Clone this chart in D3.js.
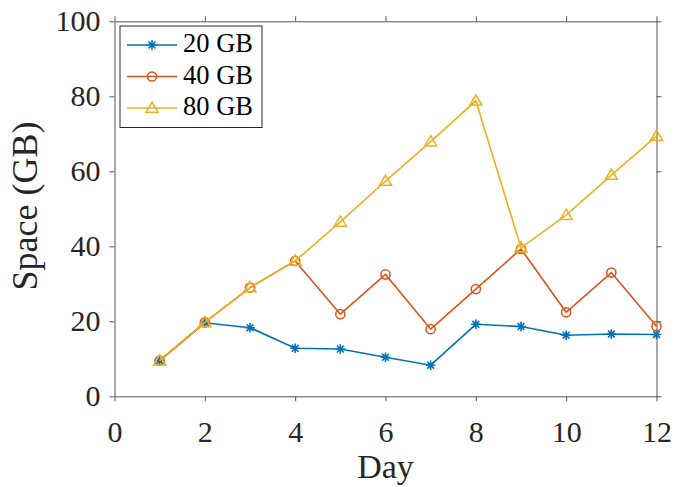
<!DOCTYPE html>
<html>
<head>
<meta charset="utf-8">
<script src="https://cdn.jsdelivr.net/npm/d3@7"></script>
<style>
  body { margin: 0; background: #fff; }
  svg text { font-family: "Liberation Serif", "Times New Roman", serif; }
</style>
</head>
<body>
<svg width="675" height="487"></svg>
<script>
'use strict'

const days = [1, 2, 3, 4, 5, 6, 7, 8, 9, 10, 11, 12];
const gb20 = [9.5, 19.6, 18.3, 12.8, 12.6, 10.4, 8.3, 19.2, 18.6, 16.3, 16.6, 16.5];
const gb40 = [9.5, 19.7, 29.0, 36.1, 21.9, 32.5, 17.9, 28.6, 39.3, 22.4, 33.0, 18.7];
const gb80 = [9.5, 19.7, 29.0, 36.1, 46.5, 57.4, 67.9, 78.8, 39.6, 48.3, 59.0, 69.4];
const seriesNames = ['20 GB', '40 GB', '80 GB'];
const xTicks = [0, 2, 4, 6, 8, 10, 12];
const yTicks = [0, 20, 40, 60, 80, 100];

const colors = ['#0072BD', '#D95319', '#EDB120'];
const markers = ['star', 'circle', 'triangle'];

const plotLeft = 114.5, plotRight = 656.5, plotTop = 21.3, plotBottom = 396.3;
const axisColor = '#555';

const svg = d3.select('svg');
const x = d3.scaleLinear().domain([0, 12]).range([plotLeft, plotRight]);
const y = d3.scaleLinear().domain([0, 100]).range([plotBottom, plotTop]);

// Axes (box with ticks on all sides, pointing outward)
const axes = [
  [d3.axisBottom(x).tickValues(xTicks), `translate(0,${plotBottom})`, 19],
  [d3.axisTop(x).tickValues(xTicks), `translate(0,${plotTop})`, 0],
  [d3.axisLeft(y).tickValues(yTicks), `translate(${plotLeft},0)`, 9],
  [d3.axisRight(y).tickValues(yTicks), `translate(${plotRight},0)`, 0]
];
axes.forEach(([ax, tr, pad]) => {
  const g = svg.append('g')
    .attr('transform', tr)
    .call(ax.tickSizeInner(5).tickSizeOuter(0).tickPadding(pad));
  g.attr('font-family', null).attr('font-size', null);
  g.select('.domain').attr('stroke', axisColor).attr('stroke-width', 1);
  g.selectAll('.tick line').attr('stroke', axisColor);
  if (pad) {
    g.selectAll('.tick text')
      .attr('fill', '#262626')
      .attr('font-size', 30);
  } else {
    g.selectAll('.tick text').remove();
  }
});

// Axis labels
svg.append('text')
  .attr('x', (plotLeft + plotRight) / 2)
  .attr('y', 478)
  .attr('text-anchor', 'middle')
  .attr('font-size', 34)
  .attr('fill', '#262626')
  .text('Day');

svg.append('text')
  .attr('transform', `translate(37,206) rotate(-90)`)
  .attr('text-anchor', 'middle')
  .attr('font-size', 36)
  .attr('fill', '#262626')
  .text('Space (GB)');

function drawMarker(g, type, color, cx, cy) {
  if (type === 'circle') {
    g.append('circle')
      .attr('cx', cx).attr('cy', cy).attr('r', 4.6)
      .attr('fill', 'none').attr('stroke', color).attr('stroke-width', 1.5);
  } else if (type === 'triangle') {
    const s = 6;
    g.append('path')
      .attr('d', `M${cx},${cy - s} L${cx + s},${cy + s * 0.7} L${cx - s},${cy + s * 0.7} Z`)
      .attr('fill', 'none').attr('stroke', color).attr('stroke-width', 1.5);
  } else {
    const s = 4.8;
    const p = d3.path();
    for (let a = 0; a < 4; a++) {
      const t = a * Math.PI / 4;
      p.moveTo(cx - s * Math.cos(t), cy - s * Math.sin(t));
      p.lineTo(cx + s * Math.cos(t), cy + s * Math.sin(t));
    }
    g.append('path').attr('d', p.toString())
      .attr('stroke', color).attr('stroke-width', 1.6);
  }
}

const line = d3.line().x(d => x(d[0])).y(d => y(d[1]));
[gb20, gb40, gb80].forEach((vals, i) => {
  const pts = days.map((d, j) => [d, vals[j]]);
  const g = svg.append('g');
  g.append('path')
    .attr('d', line(pts))
    .attr('fill', 'none')
    .attr('stroke', colors[i])
    .attr('stroke-width', 1.6);
  pts.forEach(p => drawMarker(g, markers[i], colors[i], x(p[0]), y(p[1])));
});

// Legend
const lg = svg.append('g');
lg.append('rect')
  .attr('x', 120).attr('y', 26).attr('width', 142).attr('height', 101.5)
  .attr('fill', '#fff').attr('stroke', '#262626').attr('stroke-width', 1);
seriesNames.forEach((name, i) => {
  const ly = 45 + i * 31.5;
  lg.append('line')
    .attr('x1', 127).attr('x2', 177).attr('y1', ly).attr('y2', ly)
    .attr('stroke', colors[i]).attr('stroke-width', 1.6);
  drawMarker(lg, markers[i], colors[i], 152, ly);
  lg.append('text')
    .attr('x', 183).attr('y', ly + 7)
    .attr('font-size', 26.5).attr('fill', '#000')
    .text(name);
});
</script>
</body>
</html>
